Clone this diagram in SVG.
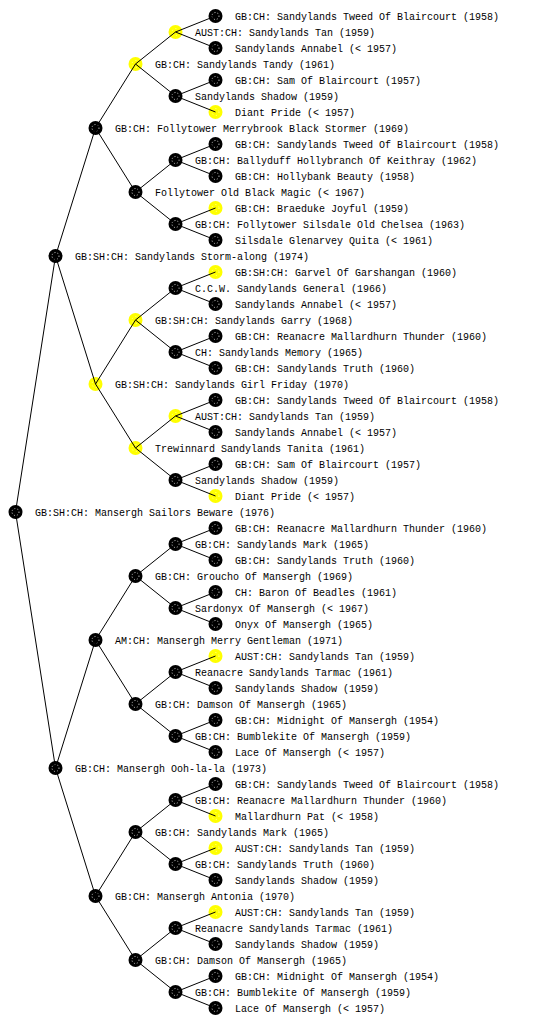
<svg xmlns="http://www.w3.org/2000/svg" width="560" height="1024" viewBox="0 0 560 1024">
<style>
.bg{fill:#ffffff}
.b{fill:#000000}
.y{fill:#ffff00}
.d{fill:none;stroke:#ffffff;stroke-width:1;stroke-dasharray:1 2;opacity:0.8}
.dy{fill:none;stroke:#ffffff;stroke-width:1;stroke-dasharray:1 3;opacity:0.6}
text{font-family:"Liberation Mono","DejaVu Sans Mono",monospace;font-size:10px;fill:#000000}
.c{fill:none;stroke:#000000;stroke-width:1}
</style>
<rect class="bg" x="0" y="0" width="560" height="1024"/>
<g id="nodes">
<g id="n512"><circle class="b" cx="15.5" cy="512" r="7"/><circle class="d" cx="15.5" cy="512" r="3.5"/><text x="35" y="516">GB:SH:CH: Mansergh Sailors Beware (1976)</text></g>
<g id="n256"><circle class="b" cx="55.5" cy="256" r="7"/><circle class="d" cx="55.5" cy="256" r="3.5"/><text x="75" y="260">GB:SH:CH: Sandylands Storm-along (1974)</text></g>
<g id="n768"><circle class="b" cx="55.5" cy="768" r="7"/><circle class="d" cx="55.5" cy="768" r="3.5"/><text x="75" y="772">GB:CH: Mansergh Ooh-la-la (1973)</text></g>
<g id="n128"><circle class="b" cx="95.5" cy="128" r="7"/><circle class="d" cx="95.5" cy="128" r="3.5"/><text x="115" y="132">GB:CH: Follytower Merrybrook Black Stormer (1969)</text></g>
<g id="n384"><circle class="y" cx="95.5" cy="384" r="7"/><circle class="dy" cx="95.5" cy="384" r="3.5"/><text x="115" y="388">GB:SH:CH: Sandylands Girl Friday (1970)</text></g>
<g id="n640"><circle class="b" cx="95.5" cy="640" r="7"/><circle class="d" cx="95.5" cy="640" r="3.5"/><text x="115" y="644">AM:CH: Mansergh Merry Gentleman (1971)</text></g>
<g id="n896"><circle class="b" cx="95.5" cy="896" r="7"/><circle class="d" cx="95.5" cy="896" r="3.5"/><text x="115" y="900">GB:CH: Mansergh Antonia (1970)</text></g>
<g id="n64"><circle class="y" cx="135.5" cy="64" r="7"/><circle class="dy" cx="135.5" cy="64" r="3.5"/><text x="155" y="68">GB:CH: Sandylands Tandy (1961)</text></g>
<g id="n192"><circle class="b" cx="135.5" cy="192" r="7"/><circle class="d" cx="135.5" cy="192" r="3.5"/><text x="155" y="196">Follytower Old Black Magic (&lt; 1967)</text></g>
<g id="n320"><circle class="y" cx="135.5" cy="320" r="7"/><circle class="dy" cx="135.5" cy="320" r="3.5"/><text x="155" y="324">GB:SH:CH: Sandylands Garry (1968)</text></g>
<g id="n448"><circle class="y" cx="135.5" cy="448" r="7"/><circle class="dy" cx="135.5" cy="448" r="3.5"/><text x="155" y="452">Trewinnard Sandylands Tanita (1961)</text></g>
<g id="n576"><circle class="b" cx="135.5" cy="576" r="7"/><circle class="d" cx="135.5" cy="576" r="3.5"/><text x="155" y="580">GB:CH: Groucho Of Mansergh (1969)</text></g>
<g id="n704"><circle class="b" cx="135.5" cy="704" r="7"/><circle class="d" cx="135.5" cy="704" r="3.5"/><text x="155" y="708">GB:CH: Damson Of Mansergh (1965)</text></g>
<g id="n832"><circle class="b" cx="135.5" cy="832" r="7"/><circle class="d" cx="135.5" cy="832" r="3.5"/><text x="155" y="836">GB:CH: Sandylands Mark (1965)</text></g>
<g id="n960"><circle class="b" cx="135.5" cy="960" r="7"/><circle class="d" cx="135.5" cy="960" r="3.5"/><text x="155" y="964">GB:CH: Damson Of Mansergh (1965)</text></g>
<g id="n32"><circle class="y" cx="175.5" cy="32" r="7"/><circle class="dy" cx="175.5" cy="32" r="3.5"/><text x="195" y="36">AUST:CH: Sandylands Tan (1959)</text></g>
<g id="n96"><circle class="b" cx="175.5" cy="96" r="7"/><circle class="d" cx="175.5" cy="96" r="3.5"/><text x="195" y="100">Sandylands Shadow (1959)</text></g>
<g id="n160"><circle class="b" cx="175.5" cy="160" r="7"/><circle class="d" cx="175.5" cy="160" r="3.5"/><text x="195" y="164">GB:CH: Ballyduff Hollybranch Of Keithray (1962)</text></g>
<g id="n224"><circle class="b" cx="175.5" cy="224" r="7"/><circle class="d" cx="175.5" cy="224" r="3.5"/><text x="195" y="228">GB:CH: Follytower Silsdale Old Chelsea (1963)</text></g>
<g id="n288"><circle class="b" cx="175.5" cy="288" r="7"/><circle class="d" cx="175.5" cy="288" r="3.5"/><text x="195" y="292">C.C.W. Sandylands General (1966)</text></g>
<g id="n352"><circle class="b" cx="175.5" cy="352" r="7"/><circle class="d" cx="175.5" cy="352" r="3.5"/><text x="195" y="356">CH: Sandylands Memory (1965)</text></g>
<g id="n416"><circle class="y" cx="175.5" cy="416" r="7"/><circle class="dy" cx="175.5" cy="416" r="3.5"/><text x="195" y="420">AUST:CH: Sandylands Tan (1959)</text></g>
<g id="n480"><circle class="b" cx="175.5" cy="480" r="7"/><circle class="d" cx="175.5" cy="480" r="3.5"/><text x="195" y="484">Sandylands Shadow (1959)</text></g>
<g id="n544"><circle class="b" cx="175.5" cy="544" r="7"/><circle class="d" cx="175.5" cy="544" r="3.5"/><text x="195" y="548">GB:CH: Sandylands Mark (1965)</text></g>
<g id="n608"><circle class="b" cx="175.5" cy="608" r="7"/><circle class="d" cx="175.5" cy="608" r="3.5"/><text x="195" y="612">Sardonyx Of Mansergh (&lt; 1967)</text></g>
<g id="n672"><circle class="b" cx="175.5" cy="672" r="7"/><circle class="d" cx="175.5" cy="672" r="3.5"/><text x="195" y="676">Reanacre Sandylands Tarmac (1961)</text></g>
<g id="n736"><circle class="b" cx="175.5" cy="736" r="7"/><circle class="d" cx="175.5" cy="736" r="3.5"/><text x="195" y="740">GB:CH: Bumblekite Of Mansergh (1959)</text></g>
<g id="n800"><circle class="b" cx="175.5" cy="800" r="7"/><circle class="d" cx="175.5" cy="800" r="3.5"/><text x="195" y="804">GB:CH: Reanacre Mallardhurn Thunder (1960)</text></g>
<g id="n864"><circle class="b" cx="175.5" cy="864" r="7"/><circle class="d" cx="175.5" cy="864" r="3.5"/><text x="195" y="868">GB:CH: Sandylands Truth (1960)</text></g>
<g id="n928"><circle class="b" cx="175.5" cy="928" r="7"/><circle class="d" cx="175.5" cy="928" r="3.5"/><text x="195" y="932">Reanacre Sandylands Tarmac (1961)</text></g>
<g id="n992"><circle class="b" cx="175.5" cy="992" r="7"/><circle class="d" cx="175.5" cy="992" r="3.5"/><text x="195" y="996">GB:CH: Bumblekite Of Mansergh (1959)</text></g>
<g id="n16"><circle class="b" cx="215.5" cy="16" r="7"/><circle class="d" cx="215.5" cy="16" r="3.5"/><text x="235" y="20">GB:CH: Sandylands Tweed Of Blaircourt (1958)</text></g>
<g id="n48"><circle class="b" cx="215.5" cy="48" r="7"/><circle class="d" cx="215.5" cy="48" r="3.5"/><text x="235" y="52">Sandylands Annabel (&lt; 1957)</text></g>
<g id="n80"><circle class="b" cx="215.5" cy="80" r="7"/><circle class="d" cx="215.5" cy="80" r="3.5"/><text x="235" y="84">GB:CH: Sam Of Blaircourt (1957)</text></g>
<g id="n112"><circle class="y" cx="215.5" cy="112" r="7"/><circle class="dy" cx="215.5" cy="112" r="3.5"/><text x="235" y="116">Diant Pride (&lt; 1957)</text></g>
<g id="n144"><circle class="b" cx="215.5" cy="144" r="7"/><circle class="d" cx="215.5" cy="144" r="3.5"/><text x="235" y="148">GB:CH: Sandylands Tweed Of Blaircourt (1958)</text></g>
<g id="n176"><circle class="b" cx="215.5" cy="176" r="7"/><circle class="d" cx="215.5" cy="176" r="3.5"/><text x="235" y="180">GB:CH: Hollybank Beauty (1958)</text></g>
<g id="n208"><circle class="y" cx="215.5" cy="208" r="7"/><circle class="dy" cx="215.5" cy="208" r="3.5"/><text x="235" y="212">GB:CH: Braeduke Joyful (1959)</text></g>
<g id="n240"><circle class="b" cx="215.5" cy="240" r="7"/><circle class="d" cx="215.5" cy="240" r="3.5"/><text x="235" y="244">Silsdale Glenarvey Quita (&lt; 1961)</text></g>
<g id="n272"><circle class="y" cx="215.5" cy="272" r="7"/><circle class="dy" cx="215.5" cy="272" r="3.5"/><text x="235" y="276">GB:SH:CH: Garvel Of Garshangan (1960)</text></g>
<g id="n304"><circle class="b" cx="215.5" cy="304" r="7"/><circle class="d" cx="215.5" cy="304" r="3.5"/><text x="235" y="308">Sandylands Annabel (&lt; 1957)</text></g>
<g id="n336"><circle class="b" cx="215.5" cy="336" r="7"/><circle class="d" cx="215.5" cy="336" r="3.5"/><text x="235" y="340">GB:CH: Reanacre Mallardhurn Thunder (1960)</text></g>
<g id="n368"><circle class="b" cx="215.5" cy="368" r="7"/><circle class="d" cx="215.5" cy="368" r="3.5"/><text x="235" y="372">GB:CH: Sandylands Truth (1960)</text></g>
<g id="n400"><circle class="b" cx="215.5" cy="400" r="7"/><circle class="d" cx="215.5" cy="400" r="3.5"/><text x="235" y="404">GB:CH: Sandylands Tweed Of Blaircourt (1958)</text></g>
<g id="n432"><circle class="b" cx="215.5" cy="432" r="7"/><circle class="d" cx="215.5" cy="432" r="3.5"/><text x="235" y="436">Sandylands Annabel (&lt; 1957)</text></g>
<g id="n464"><circle class="b" cx="215.5" cy="464" r="7"/><circle class="d" cx="215.5" cy="464" r="3.5"/><text x="235" y="468">GB:CH: Sam Of Blaircourt (1957)</text></g>
<g id="n496"><circle class="y" cx="215.5" cy="496" r="7"/><circle class="dy" cx="215.5" cy="496" r="3.5"/><text x="235" y="500">Diant Pride (&lt; 1957)</text></g>
<g id="n528"><circle class="b" cx="215.5" cy="528" r="7"/><circle class="d" cx="215.5" cy="528" r="3.5"/><text x="235" y="532">GB:CH: Reanacre Mallardhurn Thunder (1960)</text></g>
<g id="n560"><circle class="b" cx="215.5" cy="560" r="7"/><circle class="d" cx="215.5" cy="560" r="3.5"/><text x="235" y="564">GB:CH: Sandylands Truth (1960)</text></g>
<g id="n592"><circle class="b" cx="215.5" cy="592" r="7"/><circle class="d" cx="215.5" cy="592" r="3.5"/><text x="235" y="596">CH: Baron Of Beadles (1961)</text></g>
<g id="n624"><circle class="b" cx="215.5" cy="624" r="7"/><circle class="d" cx="215.5" cy="624" r="3.5"/><text x="235" y="628">Onyx Of Mansergh (1965)</text></g>
<g id="n656"><circle class="y" cx="215.5" cy="656" r="7"/><circle class="dy" cx="215.5" cy="656" r="3.5"/><text x="235" y="660">AUST:CH: Sandylands Tan (1959)</text></g>
<g id="n688"><circle class="b" cx="215.5" cy="688" r="7"/><circle class="d" cx="215.5" cy="688" r="3.5"/><text x="235" y="692">Sandylands Shadow (1959)</text></g>
<g id="n720"><circle class="b" cx="215.5" cy="720" r="7"/><circle class="d" cx="215.5" cy="720" r="3.5"/><text x="235" y="724">GB:CH: Midnight Of Mansergh (1954)</text></g>
<g id="n752"><circle class="b" cx="215.5" cy="752" r="7"/><circle class="d" cx="215.5" cy="752" r="3.5"/><text x="235" y="756">Lace Of Mansergh (&lt; 1957)</text></g>
<g id="n784"><circle class="b" cx="215.5" cy="784" r="7"/><circle class="d" cx="215.5" cy="784" r="3.5"/><text x="235" y="788">GB:CH: Sandylands Tweed Of Blaircourt (1958)</text></g>
<g id="n816"><circle class="y" cx="215.5" cy="816" r="7"/><circle class="dy" cx="215.5" cy="816" r="3.5"/><text x="235" y="820">Mallardhurn Pat (&lt; 1958)</text></g>
<g id="n848"><circle class="y" cx="215.5" cy="848" r="7"/><circle class="dy" cx="215.5" cy="848" r="3.5"/><text x="235" y="852">AUST:CH: Sandylands Tan (1959)</text></g>
<g id="n880"><circle class="b" cx="215.5" cy="880" r="7"/><circle class="d" cx="215.5" cy="880" r="3.5"/><text x="235" y="884">Sandylands Shadow (1959)</text></g>
<g id="n912"><circle class="y" cx="215.5" cy="912" r="7"/><circle class="dy" cx="215.5" cy="912" r="3.5"/><text x="235" y="916">AUST:CH: Sandylands Tan (1959)</text></g>
<g id="n944"><circle class="b" cx="215.5" cy="944" r="7"/><circle class="d" cx="215.5" cy="944" r="3.5"/><text x="235" y="948">Sandylands Shadow (1959)</text></g>
<g id="n976"><circle class="b" cx="215.5" cy="976" r="7"/><circle class="d" cx="215.5" cy="976" r="3.5"/><text x="235" y="980">GB:CH: Midnight Of Mansergh (1954)</text></g>
<g id="n1008"><circle class="b" cx="215.5" cy="1008" r="7"/><circle class="d" cx="215.5" cy="1008" r="3.5"/><text x="235" y="1012">Lace Of Mansergh (&lt; 1957)</text></g>
</g>
<g id="connectors">
<path class="c" d="M55.5 256 L15.5 512 L55.5 768"/>
<path class="c" d="M95.5 128 L55.5 256 L95.5 384 M95.5 640 L55.5 768 L95.5 896"/>
<path class="c" d="M135.5 64 L95.5 128 L135.5 192 M135.5 320 L95.5 384 L135.5 448 M135.5 576 L95.5 640 L135.5 704 M135.5 832 L95.5 896 L135.5 960"/>
<path class="c" d="M175.5 32 L135.5 64 L175.5 96 M175.5 160 L135.5 192 L175.5 224 M175.5 288 L135.5 320 L175.5 352 M175.5 416 L135.5 448 L175.5 480 M175.5 544 L135.5 576 L175.5 608 M175.5 672 L135.5 704 L175.5 736 M175.5 800 L135.5 832 L175.5 864 M175.5 928 L135.5 960 L175.5 992"/>
<path class="c" d="M215.5 16 L175.5 32 L215.5 48 M215.5 80 L175.5 96 L215.5 112 M215.5 144 L175.5 160 L215.5 176 M215.5 208 L175.5 224 L215.5 240 M215.5 272 L175.5 288 L215.5 304 M215.5 336 L175.5 352 L215.5 368 M215.5 400 L175.5 416 L215.5 432 M215.5 464 L175.5 480 L215.5 496 M215.5 528 L175.5 544 L215.5 560 M215.5 592 L175.5 608 L215.5 624 M215.5 656 L175.5 672 L215.5 688 M215.5 720 L175.5 736 L215.5 752 M215.5 784 L175.5 800 L215.5 816 M215.5 848 L175.5 864 L215.5 880 M215.5 912 L175.5 928 L215.5 944 M215.5 976 L175.5 992 L215.5 1008"/>
</g>
</svg>
